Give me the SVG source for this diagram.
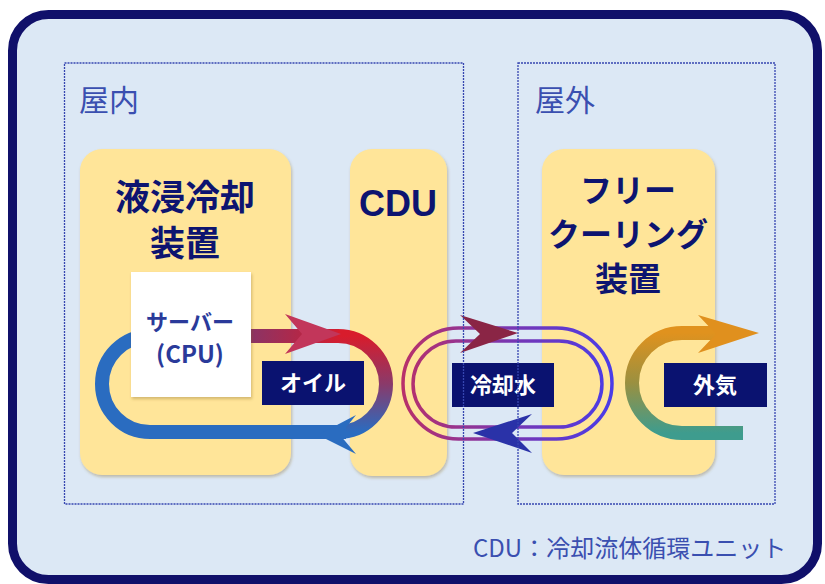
<svg xmlns="http://www.w3.org/2000/svg" width="825" height="584" viewBox="0 0 825 584">
<defs>
<style>
.jp{font-family:"Noto Sans CJK JP","Noto Sans",sans-serif}
.area{fill:none;stroke:#3646b0;stroke-width:1.3;stroke-dasharray:2 1}
.areat{font-size:30px;fill:#3a4fb0}
.box{fill:#ffe599;filter:url(#sh)}
.title{font-size:35px;font-weight:700;fill:#0d1470;text-anchor:middle}
.lbl{fill:#0a1270}
.lblt{font-size:22px;font-weight:700;fill:#ffffff;text-anchor:middle}
</style>
<filter id="sh" x="-10%" y="-10%" width="120%" height="120%">
<feDropShadow dx="1" dy="2" stdDeviation="1.5" flood-color="#806020" flood-opacity="0.35"/>
</filter>
<linearGradient id="oilTop" gradientUnits="userSpaceOnUse" x1="250" y1="0" x2="345" y2="0">
<stop offset="0" stop-color="#8a3466"/><stop offset="1" stop-color="#d81c2c"/>
</linearGradient>
<linearGradient id="oilRight" gradientUnits="userSpaceOnUse" x1="0" y1="336" x2="0" y2="432">
<stop offset="0" stop-color="#d81c2c"/><stop offset="0.5" stop-color="#8a3a6a"/><stop offset="1" stop-color="#2a6cc0"/>
</linearGradient>
<linearGradient id="water" gradientUnits="userSpaceOnUse" x1="403" y1="0" x2="612" y2="0">
<stop offset="0" stop-color="#b8306a"/><stop offset="0.5" stop-color="#7a36b0"/><stop offset="1" stop-color="#4a3ce8"/>
</linearGradient>
<linearGradient id="air" gradientUnits="userSpaceOnUse" x1="0" y1="333" x2="0" y2="433">
<stop offset="0" stop-color="#e0921e"/><stop offset="0.5" stop-color="#9a9040"/><stop offset="1" stop-color="#3e9c8e"/>
</linearGradient>
</defs>

<rect id="frame" x="12.5" y="14.5" width="805" height="565" rx="36" fill="#dce8f5" stroke="#10106a" stroke-width="9"/>

<g id="node-immersion">
<rect class="box" x="80" y="149" width="211" height="326" rx="22"/>
<text class="jp title" x="185" y="210">液浸冷却</text>
<text class="jp title" x="185" y="256">装置</text>
</g>
<g id="node-cdu">
<rect class="box" x="350" y="149" width="97" height="327" rx="22"/>
<text class="title" x="398" y="216" style="font-family:'Liberation Sans',Arial,sans-serif;font-size:36px">CDU</text>
</g>
<g id="node-freecooling">
<rect class="box" x="542" y="149" width="173" height="326" rx="22"/>
<text class="jp title" x="628" y="202" style="font-size:32px">フリー</text>
<text class="jp title" x="628" y="246" style="font-size:32px">クーリング</text>
<text class="jp title" x="628" y="291" style="font-size:33px">装置</text>
</g>

<g id="connectors" fill="none">
<!-- oil loop -->
<path d="M345,432 H150 A48,48 0 0 1 150,336 H200" stroke="#2a6cc0" stroke-width="14"/>
<path d="M230,336 H339" stroke="url(#oilTop)" stroke-width="14"/>
<path d="M338,336 A48,48 0 0 1 338,432" stroke="url(#oilRight)" stroke-width="14"/>
<path d="M337,432 H346" stroke="#2a6cc0" stroke-width="14"/>
<path d="M285,314 L341,334 L285,354 L302,334 Z" fill="#c2365a"/>
<path d="M318,435 L356,415 L340,435 L356,454 Z" fill="#2a6cc0"/>
<!-- cooling water loop -->
<path d="M458.5,328 H556.5 A55.5,55.5 0 0 1 556.5,439 H458.5 A55.5,55.5 0 0 1 458.5,328 Z" stroke="url(#water)" stroke-width="3.5"/>
<path d="M456,341 H559 A43,43 0 0 1 559,427 H456 A43,43 0 0 1 456,341 Z" stroke="url(#water)" stroke-width="3.5"/>
<path d="M460,315 L518,333 L460,353 L480,334 Z" fill="#8a2545"/>
<path d="M473,433 L532,414 L512,433 L532,453 Z" fill="#2a32a8"/>
<!-- outside air -->
<path d="M743,433 H682 A50,50 0 0 1 682,333 H720" stroke="url(#air)" stroke-width="14"/>
<path d="M698,315 L759,333 L698,353 L716,334 Z" fill="#e0901e"/>
</g>

<g id="node-server">
<rect x="131" y="272" width="120" height="125" fill="#ffffff" filter="url(#sh)"/>
<text class="jp" x="190" y="330" text-anchor="middle" font-size="22" font-weight="700" fill="#2a3a9a">サーバー</text>
<text class="jp" x="190" y="363" text-anchor="middle" font-size="24" font-weight="700" fill="#2a3a9a">(CPU)</text>
</g>

<g id="label-oil">
<rect class="lbl" x="262" y="361" width="102" height="44"/>
<text class="jp lblt" x="313" y="391">オイル</text>
</g>
<g id="label-water">
<rect class="lbl" x="452" y="363" width="102" height="44"/>
<text class="jp lblt" x="503" y="393">冷却水</text>
</g>
<g id="label-air">
<rect class="lbl" x="664" y="363" width="103" height="44"/>
<text class="jp lblt" x="715" y="393">外気</text>
</g>

<g id="area-indoor">
<rect class="area" x="64.5" y="63" width="399" height="441"/>
<text class="jp areat" x="79" y="111">屋内</text>
</g>
<g id="area-outdoor">
<rect class="area" x="518" y="63" width="257" height="441"/>
<text class="jp areat" x="535" y="111">屋外</text>
</g>

<text id="note" class="jp" x="473" y="557" font-size="24" fill="#3a4fb0">CDU：冷却流体循環ユニット</text>
</svg>
